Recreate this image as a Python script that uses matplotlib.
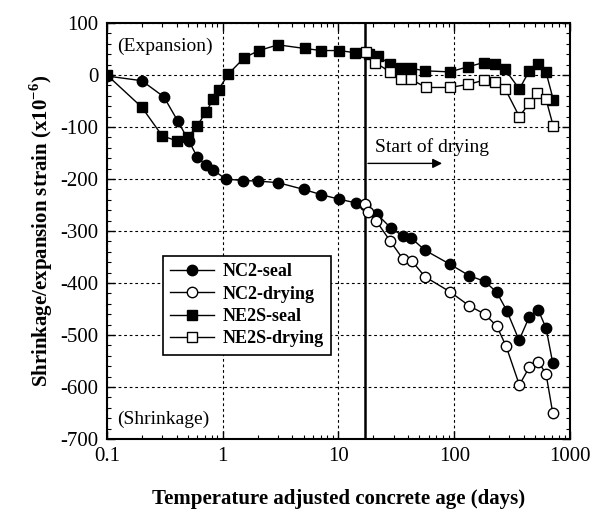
import matplotlib
matplotlib.use("Agg")
import matplotlib.pyplot as plt
from matplotlib.ticker import MultipleLocator, FixedLocator, FixedFormatter, LogLocator, NullFormatter

plt.rcParams['font.family'] = ['Liberation Serif', 'DejaVu Serif']
plt.rcParams['mathtext.fontset'] = 'custom'
plt.rcParams['mathtext.rm'] = 'Liberation Serif'
plt.rcParams['mathtext.bf'] = 'Liberation Serif:bold'
plt.rcParams['axes.unicode_minus'] = False

# Data
nc2_seal_x = [0.1, 0.2, 0.31, 0.41, 0.51, 0.6, 0.72, 0.83, 1.06, 1.5, 2.03, 3.0, 5.0, 7.06, 10.2, 14.2,
              17.0, 21.6, 28.6, 36.3, 42.7, 55.9, 92, 135, 184, 233, 284, 363, 445, 532, 621, 708]
nc2_seal_y = [-2, -11, -42, -89, -127, -157, -174, -183, -200, -203, -204, -207, -220, -230, -239, -246,
              -250, -268, -295, -310, -314, -337, -364, -386, -397, -418, -453, -510, -465, -452, -487, -553]

nc2_dry_x = [17.0, 18.1, 21.1, 27.9, 35.8, 42.8, 55.9, 92, 135, 184, 233, 280, 365, 445, 532, 621, 708]
nc2_dry_y = [-249, -263, -280, -319, -353, -357, -388, -417, -444, -460, -483, -521, -596, -562, -551, -575, -649]

ne2s_seal_x = [0.1, 0.2, 0.3, 0.405, 0.5, 0.6, 0.717, 0.83, 0.92, 1.12, 1.53, 2.05, 3.0, 5.1, 7.1, 10.1, 13.8,
               18.5, 22, 27.9, 34.7, 42, 55.9, 92, 132, 181, 225, 274, 365, 445, 532, 621, 718]
ne2s_seal_y = [0, -62, -117, -127, -120, -98, -71, -46, -28, 2, 33, 47, 58, 51, 47, 47, 43,
               40, 36, 21, 13, 13, 8, 6, 16, 24, 21, 11, -27, 8, 21, 5, -48]

ne2s_dry_x = [17.2, 20.7, 27.9, 34.7, 42, 57, 92, 132, 181, 225, 274, 365, 445, 521, 621, 718]
ne2s_dry_y = [44, 24, 6, -8, -8, -24, -24, -18, -10, -13, -26, -80, -54, -35, -47, -99]

drying_start = 17.0
x_ticks = [0.1, 1, 10, 100, 1000]
x_tick_labels = ['0.1', '1', '10', '100', '1000']
y_ticks = [100, 0, -100, -200, -300, -400, -500, -600, -700]

fig = plt.figure(figsize=(6.03, 5.13), dpi=100)
ax = fig.add_axes([0.1774, 0.1442, 0.9453 - 0.1774, 0.9552 - 0.1442])

ms = 7.5
ax.plot(nc2_seal_x, nc2_seal_y, color='black', lw=1, marker='o', ms=ms,
        mfc='black', mec='black', label='NC2-seal', zorder=3)
ax.plot(nc2_dry_x, nc2_dry_y, color='black', lw=1, marker='o', ms=ms,
        mfc='white', mec='black', mew=1, label='NC2-drying', zorder=4)
ax.plot(ne2s_seal_x, ne2s_seal_y, color='black', lw=1, marker='s', ms=ms - 0.5,
        mfc='black', mec='black', label='NE2S-seal', zorder=3)
ax.plot(ne2s_dry_x, ne2s_dry_y, color='black', lw=1, marker='s', ms=ms - 0.5,
        mfc='white', mec='black', mew=1, label='NE2S-drying', zorder=4)

ax.set_xscale('log')
ax.set_xlim(0.1, 1000)
ax.set_ylim(-700, 100)
ax.xaxis.set_major_locator(FixedLocator(x_ticks))
ax.xaxis.set_major_formatter(FixedFormatter(x_tick_labels))
ax.xaxis.set_minor_locator(LogLocator(base=10, subs=range(2, 10), numticks=20))
ax.xaxis.set_minor_formatter(NullFormatter())
ax.yaxis.set_major_locator(FixedLocator(y_ticks))
ax.yaxis.set_minor_locator(MultipleLocator(20))

ax.tick_params(which='both', direction='in', top=True, right=True, labelsize=15, pad=6)
ax.tick_params(which='major', length=6, width=1)
ax.tick_params(which='minor', length=3, width=0.8)
for s in ax.spines.values():
    s.set_linewidth(1.5)

ax.grid(True, which='major', color='black', linestyle=(0, (2.5, 2.5)), linewidth=0.8)

ax.axvline(drying_start, color='black', lw=1.8, zorder=2)

ax.set_xlabel('Temperature adjusted concrete age (days)', fontsize=15, fontweight='bold', labelpad=16)
ax.set_ylabel('Shrinkage/expansion strain (x10$^{\\mathbf{-6}}$)', fontsize=15, fontweight='bold', labelpad=4)

ax.text(0.122, 55, '(Expansion)', fontsize=14, va='center', ha='left')
ax.text(0.122, -663, '(Shrinkage)', fontsize=14, va='center', ha='left')
ax.text(20.7, -138, 'Start of drying', fontsize=14, va='center', ha='left')
ax.annotate('', xy=(83, -170), xytext=(drying_start, -170),
            arrowprops=dict(arrowstyle='-|>', color='black', lw=1, mutation_scale=14))

leg = ax.legend(loc='upper left', bbox_to_anchor=(0.121, 0.44), borderaxespad=0,
                prop={'weight': 'bold', 'size': 13}, frameon=True, fancybox=False,
                edgecolor='black', framealpha=1, handlelength=2.4, borderpad=0.4,
                labelspacing=0.3, handletextpad=0.5)
leg.get_frame().set_linewidth(1.2)

fig.savefig('out.png', dpi=100)
